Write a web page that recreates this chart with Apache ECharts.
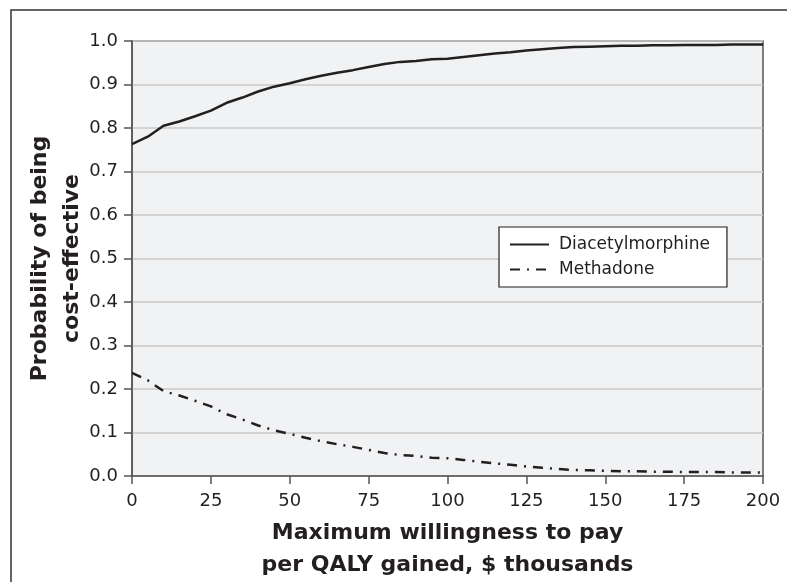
<!DOCTYPE html>
<html>
<head>
<meta charset="utf-8">
<script src="https://cdn.jsdelivr.net/npm/echarts@6/dist/echarts.min.js"></script>
<style>html,body{margin:0;padding:0;background:#fff;}#c{width:787px;height:582px;}</style>
</head>
<body>
<div id="c"></div>
<script>
var wtp = [0,5,10,15,20,25,30,35,40,45,50,55,60,65,70,75,80,85,90,95,100,105,110,115,120,125,130,135,140,145,150,155,160,165,170,175,180,185,190,195,200];
var diacetylmorphine = [0.763,0.780,0.805,0.815,0.827,0.840,0.858,0.870,0.884,0.895,0.903,0.912,0.920,0.927,0.933,0.940,0.947,0.952,0.954,0.958,0.959,0.963,0.967,0.971,0.974,0.978,0.981,0.984,0.986,0.987,0.988,0.989,0.989,0.990,0.990,0.991,0.991,0.991,0.992,0.992,0.992];
var methadone = [0.237,0.220,0.195,0.185,0.173,0.160,0.142,0.130,0.116,0.105,0.097,0.088,0.080,0.073,0.067,0.060,0.053,0.048,0.046,0.042,0.041,0.037,0.033,0.029,0.026,0.022,0.019,0.016,0.014,0.013,0.012,0.011,0.011,0.010,0.010,0.009,0.009,0.009,0.008,0.008,0.008];
var seriesNames = ['Diacetylmorphine','Methadone'];
var xTitle = 'Maximum willingness to pay\nper QALY gained, $ thousands';
var yTitle = 'Probability of being\ncost-effective';

function pairs(xs, ys){ return xs.map(function(x,i){ return [x, ys[i]]; }); }

var FONT = '"DejaVu Sans", "Noto Sans", sans-serif';
var TXT = '#231f20';
var DASH = [10,7,2,7];
var chart = echarts.init(document.getElementById('c'), null, {renderer:'canvas'});
chart.setOption({
  animation:false,
  textStyle:{fontFamily:FONT},
  grid:{left:132, right:24, top:41, bottom:106, outerBoundsMode:'none', containLabel:false,
        show:true, backgroundColor:'#f1f2f4', borderColor:'#555', borderWidth:1.5},
  xAxis:{
    type:'value', min:0, max:200, interval:25,
    name:xTitle, nameLocation:'middle', nameGap:41, nameMoveOverlap:false,
    nameTextStyle:{fontFamily:FONT, fontSize:22, fontWeight:'bold', color:TXT, lineHeight:32, verticalAlign:'top'},
    axisLine:{show:true, onZero:false, lineStyle:{color:'#555', width:1.5}},
    axisTick:{show:true, length:8, inside:false, lineStyle:{color:'#555', width:1.5}},
    axisLabel:{fontSize:18, color:TXT, margin:16, fontFamily:FONT},
    splitLine:{show:false}
  },
  yAxis:{
    type:'value', min:0, max:1, interval:0.1,
    name:yTitle, nameLocation:'middle', nameGap:44, nameRotate:90, nameMoveOverlap:false,
    nameTextStyle:{fontFamily:FONT, fontSize:22, fontWeight:'bold', color:TXT, lineHeight:32},
    axisLine:{show:true, lineStyle:{color:'#555', width:1.5}},
    axisTick:{show:true, length:8, lineStyle:{color:'#555', width:1.5}},
    axisLabel:{fontSize:18, color:TXT, margin:14, fontFamily:FONT, formatter:function(v){return v.toFixed(1);}},
    splitLine:{show:true, lineStyle:{color:'#c8c8c8', width:1.5}}
  },
  legend:{
    show:true, left:499, top:227, orient:'vertical',
    padding:[9,17,9,10], itemGap:8, itemWidth:39, itemHeight:14,
    backgroundColor:'#fff', borderColor:'#231f20', borderWidth:1.2, borderRadius:0,
    itemStyle:{opacity:0, borderWidth:0},
    textStyle:{fontSize:17, color:TXT, fontFamily:FONT, padding:[0,0,0,5]},
    data:[
      {name:seriesNames[0]},
      {name:seriesNames[1]}
    ]
  },
  series:[
    {name:seriesNames[0], type:'line', data:pairs(wtp, diacetylmorphine), showSymbol:false, symbol:'none', symbolSize:0,
     lineStyle:{color:TXT, width:2.5, type:'solid'}, itemStyle:{color:TXT}},
    {name:seriesNames[1], type:'line', data:pairs(wtp, methadone), showSymbol:false, symbol:'none', symbolSize:0,
     lineStyle:{color:TXT, width:2.5, type:DASH}, itemStyle:{color:TXT}}
  ],
  graphic:[
    {type:'polyline', silent:true, shape:{points:[[11,600],[11,10],[800,10]]}, style:{fill:null, stroke:'#333', lineWidth:1.5}}
  ]
});
</script>
</body>
</html>
